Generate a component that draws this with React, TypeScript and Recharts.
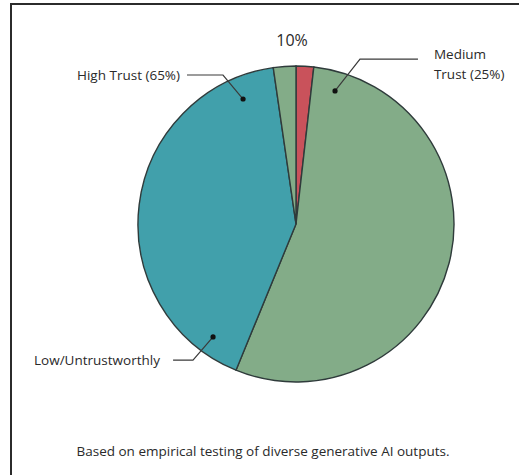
import React from "react";
import { PieChart, Pie, Cell } from "recharts";

const sliceNames = ["Red sliver", "Large green", "Teal", "Small green"];
const sliceValues = [1.8, 54.4, 41.5, 2.3];
const labelTexts = ["10%", "Medium", "Trust (25%)", "High Trust (65%)", "Low/Untrustworthly"];
const footnote = "Based on empirical testing of diverse generative AI outputs.";

const data = sliceNames.map((name, i) => ({ name, value: sliceValues[i] }));
const colors = ["#c9525b", "#83ac88", "#41a0ab", "#83ac88"];

const FONT = "'Open Sans', 'Noto Sans', sans-serif";
const TXT = "#2a2a2a";
const FS = 13.5;

const renderLabel = (props: any) => {
  const { cx, cy, outerRadius, index } = props;
  const r = outerRadius;
  const P = (fx: number, fy: number) => [cx + fx * r, cy + fy * r];
  const leader = (dot: number[], elbow: number[], end: number[]) => {
    const d = P(dot[0], dot[1]);
    const e = P(elbow[0], elbow[1]);
    const f = P(end[0], end[1]);
    return (
      <g>
        <polyline points={`${d[0]},${d[1]} ${e[0]},${e[1]} ${f[0]},${f[1]}`} fill="none" stroke="#3a3a3a" strokeWidth={1.2} />
        <circle cx={d[0]} cy={d[1]} r={2.6} fill="#111" />
      </g>
    );
  };
  if (index === 0) {
    const t = P(-0.025, -1.165);
    return (
      <text x={t[0]} y={t[1]} textAnchor="middle" dominantBaseline="central" fontFamily={FONT} fontSize={16} fill={TXT}>
        {labelTexts[0]}
      </text>
    );
  }
  if (index === 1) {
    const t1 = P(0.873, -1.076);
    const t2 = P(0.873, -0.949);
    return (
      <g>
        {leader([0.247, -0.842], [0.405, -1.044], [0.772, -1.044])}
        <text x={t1[0]} y={t1[1]} textAnchor="start" dominantBaseline="central" fontFamily={FONT} fontSize={FS} fill={TXT}>
          {labelTexts[1]}
        </text>
        <text x={t2[0]} y={t2[1]} textAnchor="start" dominantBaseline="central" fontFamily={FONT} fontSize={FS} fill={TXT}>
          {labelTexts[2]}
        </text>
      </g>
    );
  }
  if (index === 2) {
    const t1 = P(-0.734, -0.943);
    const t2 = P(-0.861, 0.861);
    return (
      <g>
        {leader([-0.335, -0.791], [-0.462, -0.943], [-0.69, -0.943])}
        <text x={t1[0]} y={t1[1]} textAnchor="end" dominantBaseline="central" fontFamily={FONT} fontSize={FS} fill={TXT}>
          {labelTexts[3]}
        </text>
        {leader([-0.525, 0.715], [-0.652, 0.861], [-0.778, 0.861])}
        <text x={t2[0]} y={t2[1]} textAnchor="end" dominantBaseline="central" fontFamily={FONT} fontSize={FS} fill={TXT}>
          {labelTexts[4]}
        </text>
      </g>
    );
  }
  return null;
};

export default function App() {
  return (
    <div style={{ position: "fixed", left: 0, top: 0, width: 519, height: 475, background: "#ffffff", overflow: "hidden" }}>
      <div
        style={{
          position: "absolute",
          left: 10,
          top: 3,
          width: 509,
          height: 472,
          borderLeft: "2px solid #2b2b2b",
          borderTop: "2px solid #2b2b2b",
          boxSizing: "border-box",
        }}
      />
      <div style={{ position: "absolute", left: 0, top: 0 }}>
        <PieChart width={519} height={475} margin={{ top: 0, right: 0, bottom: 0, left: 0 }}>
          <Pie
            data={data}
            dataKey="value"
            nameKey="name"
            cx={296}
            cy={224}
            outerRadius={158}
            startAngle={90}
            endAngle={-270}
            stroke="#2f3b3b"
            strokeWidth={1.4}
            label={renderLabel}
            labelLine={false}
            isAnimationActive={false}
          >
            {data.map((d, i) => (
              <Cell key={d.name} fill={colors[i]} />
            ))}
          </Pie>
        </PieChart>
      </div>
      <div
        style={{
          position: "absolute",
          left: 0,
          width: 526,
          top: 442,
          textAlign: "center",
          fontFamily: FONT,
          fontSize: FS,
          color: TXT,
          whiteSpace: "nowrap",
        }}
      >
        {footnote}
      </div>
    </div>
  );
}
